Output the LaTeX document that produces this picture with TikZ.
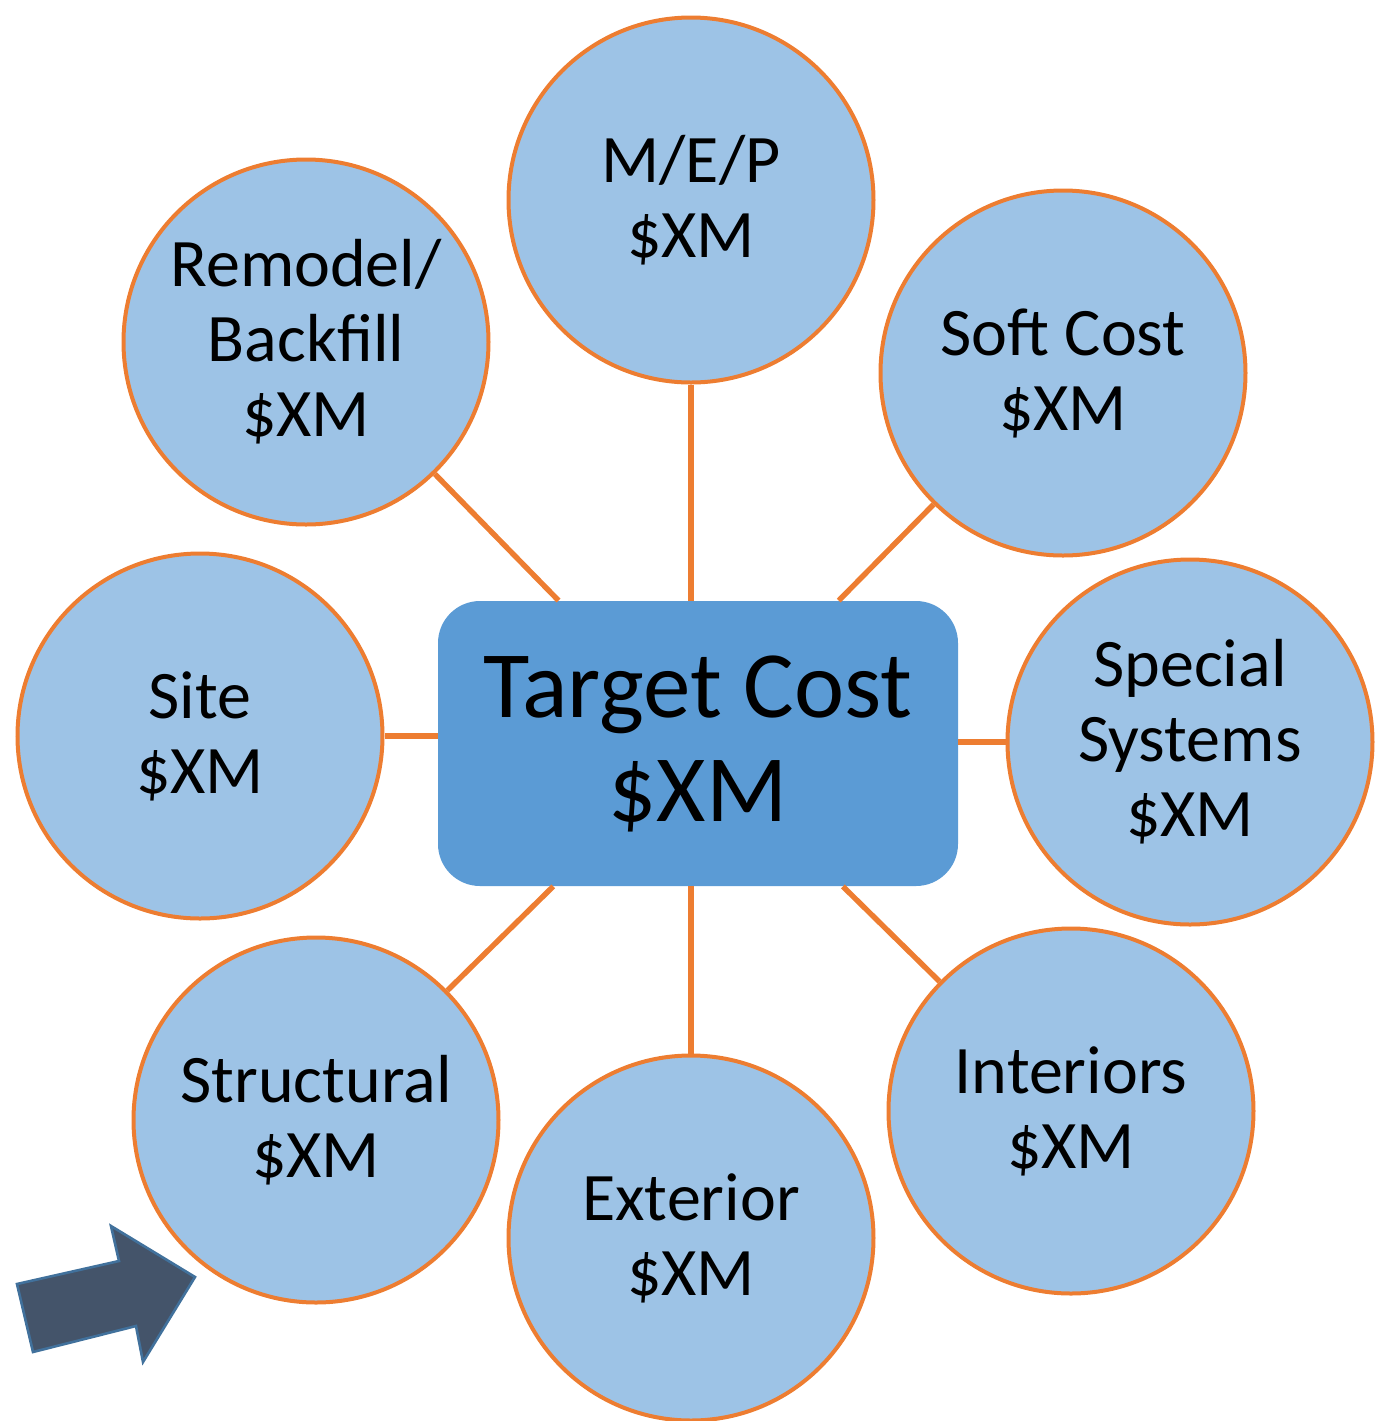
\documentclass[tikz,border=0pt]{standalone}
\usepackage{fontspec}
\setmainfont{Carlito}
\definecolor{circfill}{HTML}{9DC3E6}
\definecolor{circline}{HTML}{ED7D31}
\definecolor{boxfill}{HTML}{5B9BD5}
\definecolor{arrfill}{HTML}{44546A}
\definecolor{arrline}{HTML}{41719C}
\newcommand{\toptxt}{\fontsize{34}{37.5}\selectfont}
\newcommand{\boxtxt}{\fontsize{47.5}{52}\selectfont}
\begin{document}
\begin{tikzpicture}[x=0.5pt,y=-0.5pt,
  costcircle/.style={circle,draw=circline,line width=2pt,fill=circfill,
    minimum size=182.5pt,inner sep=0pt,align=center,text=black,font=\toptxt},
  centerbox/.style={rectangle,rounded corners=21pt,fill=boxfill,
    minimum width=260pt,minimum height=142.5pt,inner sep=0pt,align=center,font=\boxtxt},
  link/.style={draw=circline,line width=2.7pt}]
\useasboundingbox (0,0) rectangle (1375,1421);
\node[centerbox] (tc) at (698,743.5) {Target Cost\\\$XM};
\node[costcircle] (mep) at (691,200) {M/E/P\\\$XM};
\node[costcircle] (rem) at (306,342) {Remodel/\\Backfill\\\$XM};
\node[costcircle] (soft) at (1063,373) {Soft Cost\\\$XM};
\node[costcircle] (site) at (200,736) {Site\\\$XM};
\node[costcircle] (spec) at (1190,742) {Special\\Systems\\\$XM};
\node[costcircle] (str) at (316,1120) {Structural\\\$XM};
\node[costcircle] (ext) at (691,1238) {Exterior\\\$XM};
\node[costcircle] (int) at (1071,1111) {Interiors\\\$XM};
\foreach \n in {rem,soft,str,int}{
  \draw[link] (tc) -- (\n);
}
\draw[link] (mep.south) -- (mep.south |- tc.north);
\draw[link] (ext.north) -- (ext.north |- tc.south);
\draw[link] (site.east) -- (site.east -| tc.west);
\draw[link] (spec.west) -- (spec.west -| tc.east);
\filldraw[fill=arrfill,draw=arrline,line width=1.3pt,line join=miter]
  (17,1284) -- (119,1261) -- (111,1226) -- (195,1277) -- (143,1362) -- (136,1326) -- (33,1352) -- cycle;
\end{tikzpicture}
\end{document}
